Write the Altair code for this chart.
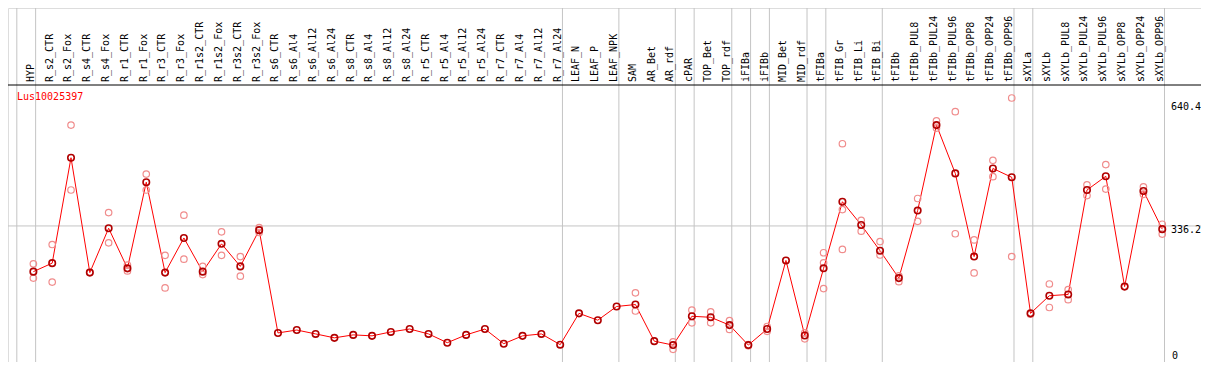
import altair as alt
import pandas as pd

gene = "Lus10025397"

categories = [
    "HYP", "R_s2_CTR", "R_s2_Fox", "R_s4_CTR", "R_s4_Fox", "R_r1_CTR", "R_r1_Fox",
    "R_r3_CTR", "R_r3_Fox", "R_r1s2_CTR", "R_r1s2_Fox", "R_r3s2_CTR", "R_r3s2_Fox",
    "R_s6_CTR", "R_s6_Al4", "R_s6_Al12", "R_s6_Al24", "R_s8_CTR", "R_s8_Al4",
    "R_s8_Al12", "R_s8_Al24", "R_r5_CTR", "R_r5_Al4", "R_r5_Al12", "R_r5_Al24",
    "R_r7_CTR", "R_r7_Al4", "R_r7_Al12", "R_r7_Al24", "LEAF_N", "LEAF_P", "LEAF_NPK",
    "SAM", "AR_Bet", "AR_rdf", "cPAR", "TOP_Bet", "TOP_rdf", "iFIBa", "iFIBb",
    "MID_Bet", "MID_rdf", "tFIBa", "tFIB_Gr", "tFIB_Li", "tFIB_Bi", "tFIBb",
    "tFIBb_PUL8", "tFIBb_PUL24", "tFIBb_PUL96", "tFIBb_OPP8", "tFIBb_OPP24",
    "tFIBb_OPP96", "sXYLa", "sXYLb", "sXYLb_PUL8", "sXYLb_PUL24", "sXYLb_PUL96",
    "sXYLb_OPP8", "sXYLb_OPP24", "sXYLb_OPP96",
]

means = [
    223.3, 244.3, 504.8, 220.9, 330.6, 231.4, 444.3, 220.9, 306.5, 223.3, 292.0,
    236.3, 325.8, 71.8, 79.0, 69.4, 59.7, 67.0, 64.6, 74.3, 81.5, 69.4, 47.7, 67.0,
    81.5, 45.2, 64.6, 69.4, 42.8, 120.2, 103.3, 137.2, 142.0, 51.5, 41.8, 113.0,
    110.5, 91.2, 41.8, 81.5, 251.0, 65.5, 231.5, 396.0, 338.7, 275.0, 207.3, 374.2,
    585.4, 466.1, 260.5, 478.2, 456.5, 120.2, 163.8, 166.9, 425.0, 458.9, 186.3,
    422.6, 328.3,
]

replicates = [
    [242.6, 207.3], [290.3, 197.6], [585.4, 425.0], [222.0], [369.3, 294.4],
    [239.5, 225.0], [464.4, 425.0], [263.7, 183.0], [362.8, 254.0], [236.3, 216.0],
    [321.7, 263.7], [260.5, 212.0], [332.0, 320.0],
    [], [], [], [], [], [], [], [], [], [], [], [], [], [], [], [],
    [], [], [],
    [171.0, 126.0], [], [50.0, 31.4], [128.2, 96.8], [124.0, 96.8], [102.3, 80.6],
    [43.0, 40.0], [87.8, 75.7], [], [71.8, 57.3], [270.0, 245.0, 181.4],
    [539.4, 376.6, 278.2], [350.0, 323.4], [297.5, 264.4], [212.9, 198.4],
    [404.0, 347.6], [595.8, 578.1], [618.5, 316.9], [301.6, 220.1], [498.3, 457.9],
    [652.4, 260.5], [118.0], [192.8, 134.7], [179.0, 154.0], [437.8, 411.2],
    [487.9, 427.4], [187.0], [433.0, 414.4], [340.4, 316.2],
]

# index of the last category of each group (separator drawn just after it)
group_ends = [-1, 0, 28, 31, 34, 35, 37, 38, 39, 41, 42, 45, 52, 53, 60]

tick_values = [640.4, 336.2]
tick_labels = ["640.4", "336.2"]
zero_value = [0]
zero_label = ["0"]
grid_values = [336.2]

# ---------------- layout ----------------
W, H = 1193, 354
TOP = 77
X_DOMAIN = [-1.349, 62.06]
Y_DOMAIN = [0, 684.5]
FONT = "DejaVu Sans Mono"

idx = list(range(len(categories)))
mean_df = pd.DataFrame({"i": idx, "cat": categories, "v": means})
rep_df = pd.DataFrame(
    [{"i": i, "v": r} for i, reps in enumerate(replicates) for r in reps]
)
sep_df = pd.DataFrame({"s": [g + 0.12 for g in group_ends]})
lab_df = pd.DataFrame({"lx": [i - 0.14 for i in idx], "cat": categories})
tick_df = pd.DataFrame({"v": tick_values, "t": tick_labels})
zero_df = pd.DataFrame({"v": zero_value, "t": zero_label})
grid_df = pd.DataFrame({"v": grid_values})
one_df = pd.DataFrame({"k": [0]})

xs = alt.Scale(domain=X_DOMAIN, nice=False, zero=False)
ys = alt.Scale(domain=Y_DOMAIN, range=[H, TOP], nice=False, zero=False)

sep = alt.Chart(sep_df).mark_rule(color="#c4c4c4", strokeWidth=1).encode(
    x=alt.X("s:Q", scale=xs, axis=None), y=alt.value(0), y2=alt.value(H)
)
grid = alt.Chart(grid_df).mark_rule(color="#c4c4c4", strokeWidth=1).encode(
    y=alt.Y("v:Q", scale=ys, axis=None), x=alt.value(0), x2=alt.value(W)
)
topline = alt.Chart(one_df).mark_rule(color="black", strokeWidth=1).encode(
    y=alt.value(TOP), x=alt.value(0), x2=alt.value(W)
)
line = alt.Chart(mean_df).mark_line(color="#ff0000", strokeWidth=1).encode(
    x=alt.X("i:Q", scale=xs, axis=None), y=alt.Y("v:Q", scale=ys, axis=None)
)
reps = alt.Chart(rep_df).mark_point(
    shape="circle", filled=False, color="#f08c8c", size=42, strokeWidth=1.2, opacity=1
).encode(x=alt.X("i:Q", scale=xs, axis=None), y=alt.Y("v:Q", scale=ys, axis=None))
mpts = alt.Chart(mean_df).mark_point(
    shape="circle", filled=False, color="#b00000", size=42, strokeWidth=1.6, opacity=1
).encode(x=alt.X("i:Q", scale=xs, axis=None), y=alt.Y("v:Q", scale=ys, axis=None))

labels = alt.Chart(lab_df).mark_text(
    angle=270, align="left", baseline="middle", font=FONT, fontSize=10, color="black"
).encode(x=alt.X("lx:Q", scale=xs, axis=None), y=alt.value(TOP - 3), text="cat:N")

title = alt.Chart(one_df).mark_text(
    align="left", baseline="middle", font=FONT, fontSize=10, color="#ff0000", text=gene
).encode(x=alt.value(9), y=alt.value(TOP + 12))

ticks = alt.Chart(tick_df).mark_text(
    align="left", baseline="middle", font=FONT, fontSize=10, color="black", dy=4
).encode(x=alt.value(W - 30), y=alt.Y("v:Q", scale=ys, axis=None), text="t:N")
zero = alt.Chart(zero_df).mark_text(
    align="left", baseline="middle", font=FONT, fontSize=10, color="black", dy=-6
).encode(x=alt.value(W - 29), y=alt.Y("v:Q", scale=ys, axis=None), text="t:N")

chart = (
    alt.layer(sep, grid, topline, line, reps, mpts, labels, title, ticks, zero)
    .properties(width=W, height=H, padding=0, autosize=alt.AutoSizeParams(type="none"))
    .configure_view(stroke="black", strokeWidth=1)
    .configure(background="white")
)

chart.save("out.html", embed_options={"renderer": "svg", "actions": False})
